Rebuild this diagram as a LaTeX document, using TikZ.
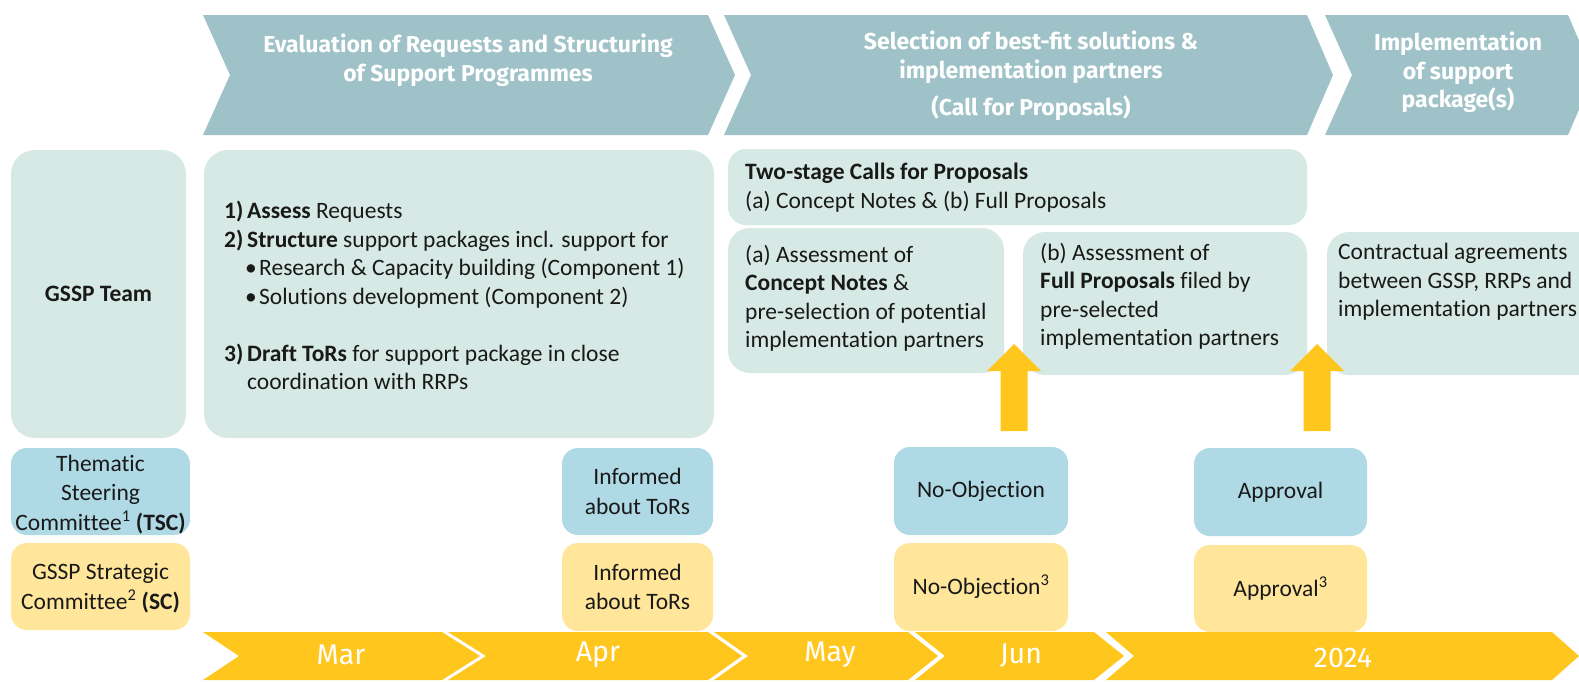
\documentclass[tikz,border=0pt]{standalone}
\usepackage{fontspec}
\setmainfont{Carlito}[Ligatures=NoCommon]
\newfontfamily\headfont{Fira Sans}
\definecolor{hdr}{RGB}{158,194,199}
\definecolor{lteal}{RGB}{214,233,228}
\definecolor{lblue}{RGB}{175,217,228}
\definecolor{lyel}{RGB}{255,230,155}
\definecolor{gold}{RGB}{255,199,30}
\definecolor{ink}{RGB}{25,25,25}
\newcommand\tlchev[4]{\fill[gold] (#1,632) -- (#2,632) -- ({#2+#4},656) -- (#2,680) -- (#1,680) -- ({#1+#3},656) -- cycle;}
\newcommand\hdchev[4]{\fill[hdr] (#1,15) -- (#2,15) -- ({#2+#4},75) -- (#2,135) -- (#1,135) -- ({#1+#3},75) -- cycle;}
\tikzset{
  bodyfont/.style={font=\fontsize{23.5}{28.5}\selectfont},
  box/.style={rounded corners=#1, inner sep=0pt, text=ink, align=center, font=\fontsize{23.5}{29.5}\selectfont},
  box/.default=16pt,
  btxt/.style={text=ink, align=left, inner sep=0pt, anchor=north west, bodyfont},
  htxt/.style={text=white, align=center, inner sep=0pt, font=\headfont\bfseries\fontsize{23}{28.5}\selectfont},
  ttxt/.style={text=white, inner sep=0pt, font=\headfont\fontsize{28.5}{32}\selectfont},
}
\begin{document}
\begin{tikzpicture}[x=1pt,y=-1pt]
\useasboundingbox (0,0) rectangle (1579,681);
% header chevrons
\hdchev{203}{708}{27}{27}
\hdchev{724}{1307}{27}{26}
\hdchev{1325}{1568}{27}{26}
\node[htxt] (h1) at (468,60) {Evaluation of Requests and Structuring\\of Support Programmes};
\node[htxt] (h2) at (1031,76) {Selection of best-fit solutions \&\\implementation partners\\[9pt](Call for Proposals)};
\node[htxt] (h3) at (1458,72.5) {Implementation\\of support\\package(s)};
% main boxes
\node[box=24pt, fill=lteal, minimum width=175pt, minimum height=288pt] (gssp) at (98.5,294) {\textbf{GSSP Team}};
\node[box=24pt, fill=lteal, minimum width=510pt, minimum height=288pt] (main) at (459,294) {};
\node[btxt] (maintxt) at (224,201) {\makebox[23pt][l]{\textbf{1)}}\textbf{Assess} Requests\\
\makebox[23pt][l]{\textbf{2)}}\textbf{Structure} support packages incl. support for\\
\hspace*{21pt}\makebox[14pt][l]{\textbullet}Research \& Capacity building (Component 1)\\
\hspace*{21pt}\makebox[14pt][l]{\textbullet}Solutions development (Component 2)\\[28.5pt]
\makebox[23pt][l]{\textbf{3)}}\textbf{Draft ToRs} for support package in close\\
\hspace*{23pt}coordination with RRPs};
\node[box=18pt, fill=lteal, minimum width=579pt, minimum height=76pt] (two) at (1017.5,187) {};
\node[btxt] (twotxt) at (745,163) {\textbf{Two-stage Calls for Proposals}\\(a) Concept Notes \& (b) Full Proposals};
\node[box=22pt, fill=lteal, minimum width=276pt, minimum height=145pt] (boxa) at (866,300.5) {};
\node[btxt] (atxt) at (745,245) {(a) Assessment of\\\textbf{Concept Notes} \&\\pre-selection of potential\\implementation partners};
\node[box=22pt, fill=lteal, minimum width=284pt, minimum height=143pt] (boxb) at (1165,303.5) {};
\node[btxt] (btxt) at (1040,243) {(b) Assessment of\\\textbf{Full Proposals} filed by\\pre-selected\\implementation partners};
\node[box=22pt, fill=lteal, minimum width=283pt, minimum height=143pt] (contract) at (1468.5,303.5) {};
\node[btxt] (ctxt) at (1338,243) {Contractual agreements\\between GSSP, RRPs and\\implementation partners};
% block arrows
\coordinate (arrA) at (1014,431);
\coordinate (arrB) at (1317,431);
\foreach \c in {arrA,arrB}{
  \fill[gold] (\c) ++(-13.5,0) -- ++(0,-60) -- ++(-13.5,0) -- ++(27,-27) -- ++(27,27) -- ++(-13.5,0) -- ++(0,60) -- cycle;
}
% committee rows
\node[box, fill=lblue, minimum width=179pt, minimum height=87pt] (tsc) at (100.5,491.5) {};
\node[text=ink, align=center, inner sep=0pt, font=\fontsize{23.5}{29.5}\selectfont] (tsctxt) at (100.5,494.5) {Thematic\\Steering\\Committee\textsuperscript{1} \textbf{(TSC)}};
\node[box, fill=lyel, minimum width=179pt, minimum height=87pt] (sc) at (100.5,586.5) {};
\node[text=ink, align=center, inner sep=0pt, font=\fontsize{23.5}{30}\selectfont] (sctxt) at (100.5,588.5) {GSSP Strategic\\Committee\textsuperscript{2} \textbf{(SC)}};
\node[box, fill=lblue, minimum width=151pt, minimum height=87pt] (inf1) at (637.5,491.5) {Informed\\about ToRs};
\node[box, fill=lyel, minimum width=151pt, minimum height=88pt] (inf2) at (637.5,587) {Informed\\about ToRs};
\node[box, fill=lblue, minimum width=174pt, minimum height=88pt] (nob1) at (981,491) {No-Objection};
\node[box, fill=lyel, minimum width=174pt, minimum height=88pt] (nob2) at (981,587) {No-Objection\textsuperscript{3}};
\node[box, fill=lblue, minimum width=173pt, minimum height=88pt] (app1) at (1280.5,492) {Approval};
\node[box, fill=lyel, minimum width=173pt, minimum height=87pt] (app2) at (1280.5,588.5) {Approval\textsuperscript{3}};
% timeline
\tlchev{203}{442}{36}{38}
\tlchev{448}{708}{38}{34}
\tlchev{714}{908}{34}{30}
\tlchev{915}{1094}{30}{30}
\tlchev{1106}{1552}{28}{27}
\node[ttxt] (mar) at (341,655) {Mar};
\node[ttxt] (apr) at (598,655) {Apr};
\node[ttxt] (may) at (830,655) {May};
\node[ttxt] (jun) at (1021,656) {Jun};
\node[ttxt] (y24) at (1343,658) {2024};
\end{tikzpicture}
\end{document}
